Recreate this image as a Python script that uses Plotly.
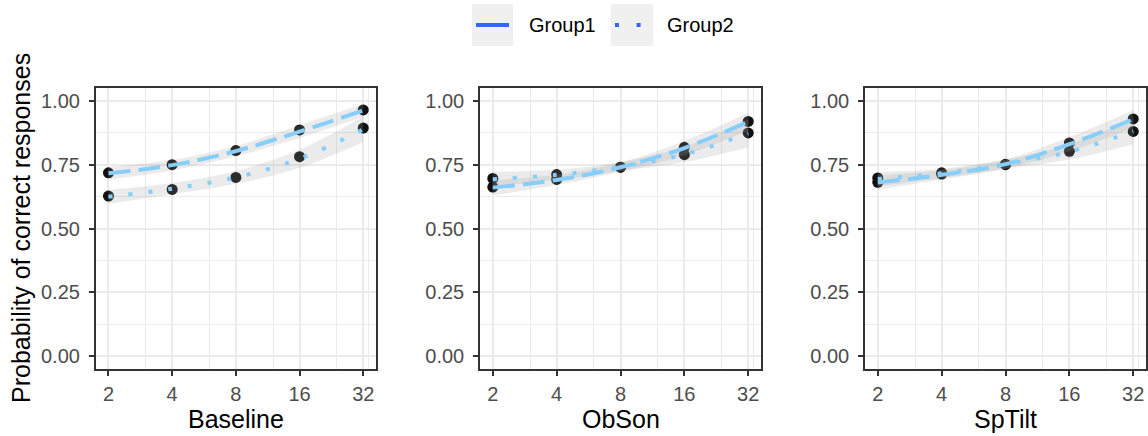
import plotly.graph_objects as go

# ---- data -----------------------------------------------------------------
set_sizes = [2, 4, 8, 16, 32]
conditions = ["Baseline", "ObSon", "SpTilt"]
groups = ["Group1", "Group2"]

# observed proportions correct, per condition
obs_group1 = {
    "Baseline": [0.718, 0.750, 0.805, 0.886, 0.964],
    "ObSon":    [0.662, 0.692, 0.740, 0.818, 0.919],
    "SpTilt":   [0.681, 0.713, 0.750, 0.835, 0.929],
}
obs_group2 = {
    "Baseline": [0.627, 0.653, 0.700, 0.781, 0.893],
    "ObSon":    [0.696, 0.711, 0.740, 0.789, 0.874],
    "SpTilt":   [0.698, 0.718, 0.752, 0.802, 0.880],
}

# smoothed fit and its confidence band half-width
fit_group1 = {
    "Baseline": [0.716, 0.748, 0.803, 0.879, 0.962],
    "ObSon":    [0.660, 0.690, 0.740, 0.815, 0.918],
    "SpTilt":   [0.680, 0.710, 0.752, 0.830, 0.928],
}
fit_group2 = {
    "Baseline": [0.624, 0.656, 0.700, 0.773, 0.888],
    "ObSon":    [0.693, 0.710, 0.742, 0.790, 0.872],
    "SpTilt":   [0.694, 0.716, 0.752, 0.800, 0.880],
}
band_group1 = {
    "Baseline": [0.025, 0.020, 0.020, 0.025, 0.025],
    "ObSon":    [0.030, 0.020, 0.018, 0.028, 0.035],
    "SpTilt":   [0.028, 0.018, 0.018, 0.028, 0.035],
}
band_group2 = {
    "Baseline": [0.028, 0.022, 0.025, 0.035, 0.050],
    "ObSon":    [0.030, 0.020, 0.018, 0.030, 0.055],
    "SpTilt":   [0.028, 0.018, 0.018, 0.030, 0.050],
}

y_ticks = [0.0, 0.25, 0.5, 0.75, 1.0]
y_ticktext = ["0.00", "0.25", "0.50", "0.75", "1.00"]

# ---- styling --------------------------------------------------------------
W, H = 1148, 436
FONT = "Liberation Sans, Arial, sans-serif"
LINE_COL = "#87CEFA"
KEY_COL = "#3366FF"
RIBBON = "rgba(153,153,153,0.2)"
GRID = "#EBEBEB"
BORDER = "#333333"

panel_px = [(95.7, 376.0), (480.0, 761.0), (865.0, 1146.0)]
top_px, bottom_px = 88.0, 369.0
y_dom = [1 - bottom_px / H, 1 - top_px / H]

fig = go.Figure()

for i, cond in enumerate(conditions):
    sfx = "" if i == 0 else str(i + 1)
    xa, ya = "x" + sfx, "y" + sfx

    fits = [fit_group1[cond], fit_group2[cond]]
    bands = [band_group1[cond], band_group2[cond]]
    obs = [obs_group1[cond], obs_group2[cond]]
    dashes = ["22px,8px", "4px,16px"]

    # observed points
    for k in range(2):
        fig.add_trace(go.Scatter(
            x=set_sizes, y=obs[k], mode="markers", xaxis=xa, yaxis=ya,
            marker=dict(size=11, color="#111111"), showlegend=False,
            hoverinfo="skip"))

    # confidence ribbons
    for k in range(2):
        up = [f + b for f, b in zip(fits[k], bands[k])]
        lo = [f - b for f, b in zip(fits[k], bands[k])]
        fig.add_trace(go.Scatter(
            x=set_sizes, y=up, mode="lines", xaxis=xa, yaxis=ya,
            line=dict(width=0, shape="spline"), showlegend=False,
            hoverinfo="skip"))
        fig.add_trace(go.Scatter(
            x=set_sizes, y=lo, mode="lines", xaxis=xa, yaxis=ya,
            line=dict(width=0, shape="spline"), fill="tonexty",
            fillcolor=RIBBON, showlegend=False, hoverinfo="skip"))

    # fitted curves
    for k in range(2):
        fig.add_trace(go.Scatter(
            x=set_sizes, y=fits[k], mode="lines", xaxis=xa, yaxis=ya,
            line=dict(color=LINE_COL, width=4, dash=dashes[k], shape="spline"),
            showlegend=False, hoverinfo="skip"))

    x0, x1 = panel_px[i]
    axis_common = dict(
        showline=True, mirror=True, linecolor=BORDER, linewidth=1.5,
        ticks="outside", ticklen=5, tickwidth=1.5, tickcolor=BORDER,
        showgrid=True, gridcolor=GRID, gridwidth=2, zeroline=False,
        tickfont=dict(family=FONT, size=20, color="#4D4D4D"),
    )
    fig.layout["xaxis" + sfx] = dict(
        axis_common, type="log", domain=[x0 / W, x1 / W],
        range=[0.8 * 0.30103, 5.2 * 0.30103],
        tickvals=set_sizes, ticktext=[str(v) for v in set_sizes],
        anchor=ya, ticklabelstandoff=1,
        minor=dict(tickvals=[3, 6, 12, 24, 33.7], showgrid=True,
                   gridcolor=GRID, gridwidth=1, ticks=""),
    )
    fig.layout["yaxis" + sfx] = dict(
        axis_common, domain=y_dom, range=[-0.05, 1.05],
        tickvals=y_ticks, ticktext=y_ticktext, anchor=xa,
        ticklabelstandoff=5,
        minor=dict(tickvals=[0.125, 0.375, 0.625, 0.875], showgrid=True,
                   gridcolor=GRID, gridwidth=1, ticks=""),
    )
    # facet label under each panel
    fig.add_annotation(
        text=cond, x=(x0 + x1) / 2 / W, y=1 - 419 / H, xref="paper",
        yref="paper", showarrow=False, xanchor="center", yanchor="middle",
        font=dict(family=FONT, size=25, color="black"))

# shared y-axis title
fig.add_annotation(
    text="Probability of correct responses", x=21 / W, y=1 - 228 / H,
    xref="paper", yref="paper", showarrow=False, textangle=-90,
    xanchor="center", yanchor="middle",
    font=dict(family=FONT, size=25, color="black"))

# legend keys drawn at the top
def px_x(v):
    return v / W


def px_y(v):
    return 1 - v / H


keys = [
    dict(box=(472, 513), label_x=527, dash="solid", label=groups[0]),
    dict(box=(611, 653), label_x=665, dash="4px,17.6px", label=groups[1]),
]
for key in keys:
    bx0, bx1 = key["box"]
    fig.add_shape(type="rect", xref="paper", yref="paper",
                  x0=px_x(bx0), x1=px_x(bx1), y0=px_y(46), y1=px_y(4),
                  fillcolor="#F0F0F0", line=dict(width=0), layer="below")
    fig.add_shape(type="line", xref="paper", yref="paper",
                  x0=px_x(bx0 + 4), x1=px_x(bx1 - 4), y0=px_y(25), y1=px_y(25),
                  line=dict(color=KEY_COL, width=4, dash=key["dash"]))
    fig.add_annotation(
        text=key["label"], x=px_x(key["label_x"]), y=px_y(25), xref="paper",
        yref="paper", showarrow=False, xanchor="left", yanchor="middle",
        font=dict(family=FONT, size=20, color="black"))

fig.update_layout(
    width=W, height=H, margin=dict(l=0, r=0, t=0, b=0),
    paper_bgcolor="white", plot_bgcolor="white", showlegend=False,
)

fig.write_html("out.html")
